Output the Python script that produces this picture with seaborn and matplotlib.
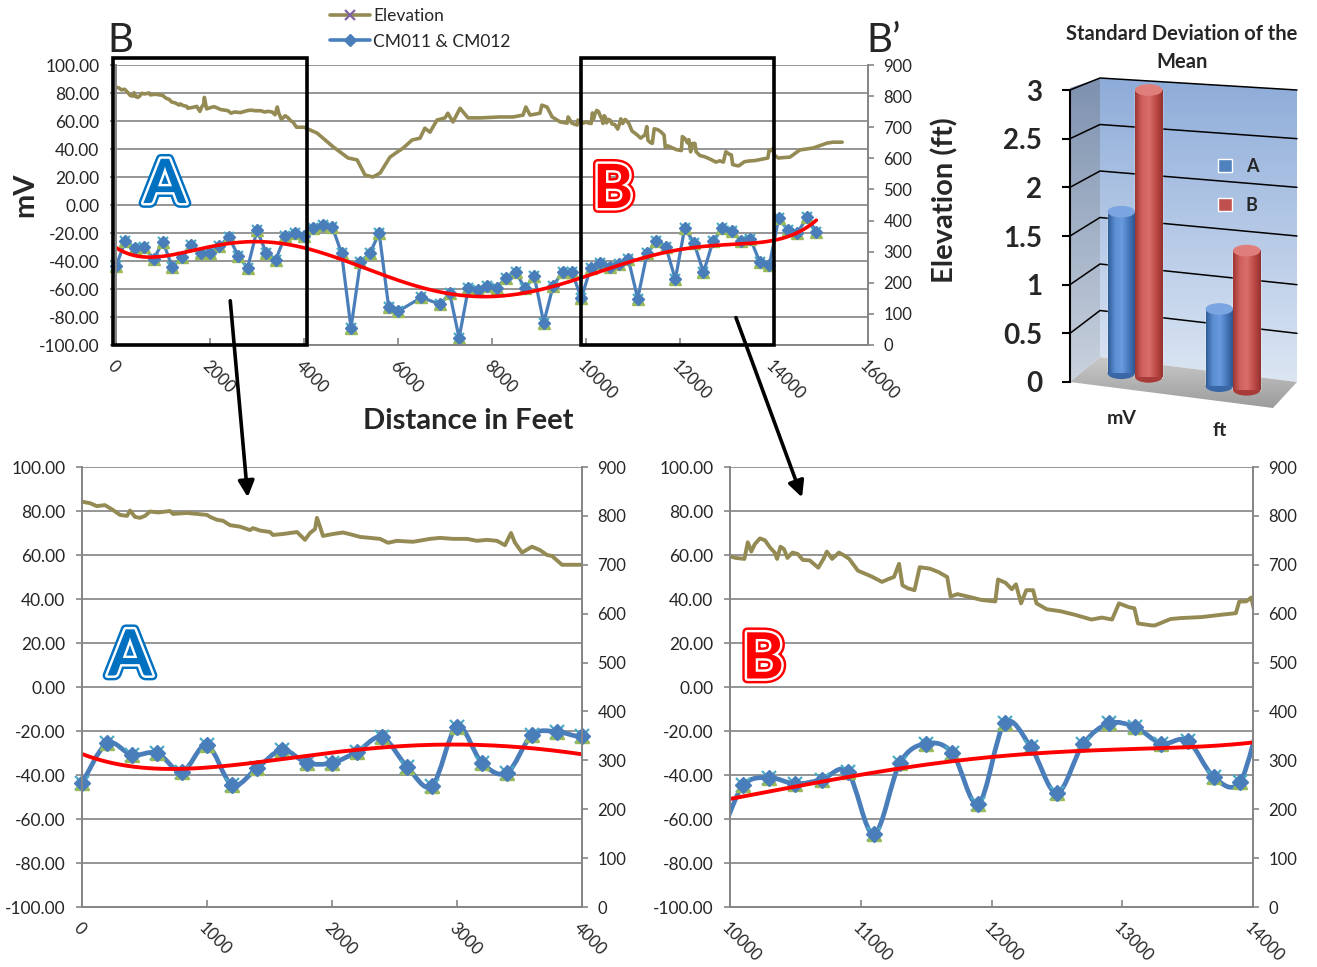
import numpy as np
import pandas as pd
import matplotlib
matplotlib.use("Agg")
import matplotlib.pyplot as plt
import matplotlib.patheffects as pe
from matplotlib.colors import LinearSegmentedColormap
from matplotlib.lines import Line2D
from matplotlib.patches import PathPatch, Rectangle, Ellipse, Polygon, FancyArrowPatch, Patch
from matplotlib.path import Path
import seaborn as sns

# ---------------- data ----------------
# CM011 & CM012 readings (distance in ft, mV)
mv_dist = [0, 200, 400, 600, 800, 1000, 1200, 1400, 1600, 1800, 2000, 2200, 2400, 2600, 2800,
           3000, 3200, 3400, 3600, 3800, 4000,
           4200, 4400, 4600, 4800, 5000, 5200, 5400, 5600, 5800, 6000, 6500, 6900,
           7100, 7300, 7500, 7700, 7900, 8100, 8300, 8500, 8700, 8900, 9100, 9300, 9500, 9700, 9900,
           10100, 10300, 10500, 10700, 10900, 11100, 11300, 11500, 11700, 11900, 12100, 12300,
           12500, 12700, 12900, 13100, 13300, 13500, 13700, 13900,
           14100, 14300, 14500, 14700, 14900]
mv_vals = [-43.8, -25.6, -30.9, -30.0, -38.5, -26.4, -44.5, -36.9, -28.6, -34.5, -34.5, -29.4, -22.8,
           -36.2, -45.0, -18.0, -34.5, -39.0, -21.8, -20.3, -22.3,
           -16.7, -14.0, -15.5, -34.5, -88.0, -40.5, -34.6, -20.0, -72.6, -76.0, -66.0, -71.0,
           -63.0, -95.0, -59.0, -60.7, -57.5, -59.0, -52.0, -47.6, -59.5, -51.0, -84.0, -58.0,
           -47.6, -47.6, -66.7,
           -44.7, -41.2, -44.0, -42.1, -38.6, -66.9, -34.5, -25.7, -29.9, -53.1, -16.5, -27.2,
           -48.2, -26.0, -16.5, -18.3, -25.7, -24.4, -40.9, -43.2,
           -9.5, -18.0, -20.0, -8.6, -19.0]

# elevation profile (distance in ft, elevation in ft)
elev_dist = [0, 64, 118, 184, 248, 304, 360, 384, 424, 464, 504, 544, 608, 704, 728, 840, 920, 1000,
             1024, 1080, 1128, 1184, 1264, 1344, 1368, 1424, 1504, 1528, 1608, 1720, 1760, 1784,
             1824, 1864, 1880, 1904, 1928, 2008, 2088, 2168, 2224, 2304, 2384, 2448, 2520, 2648,
             2784, 2864, 2968, 3080, 3160, 3240, 3320, 3384, 3432, 3464, 3520, 3600, 3664, 3720,
             3760, 3840, 3904, 4000,
             4280, 4620, 4940, 5130, 5300, 5470, 5620, 5830, 5980, 6110, 6300, 6470, 6570, 6680,
             6830, 7000, 7060, 7170, 7320, 7490, 7750, 8170, 8450, 8660, 8720, 8810, 9020, 9060,
             9170, 9280, 9450, 9600, 9620, 9700, 9810, 9830, 9940,
             10000, 10045, 10110, 10136, 10163, 10189, 10229, 10268, 10307, 10342, 10360, 10386,
             10413, 10439, 10478, 10518, 10557, 10610, 10675, 10715, 10741, 10781, 10833, 10873,
             10912, 10978, 11030, 11083, 11162, 11214, 11254, 11293, 11319, 11359, 11411, 11451,
             11530, 11595, 11661, 11687, 11740, 11819, 11924, 12029, 12050, 12108, 12155, 12187,
             12226, 12266, 12318, 12344, 12423, 12528, 12633, 12765, 12844, 12922, 12975, 13054,
             13093, 13120, 13225, 13251, 13369, 13448, 13606, 13764, 13869, 13895, 13947, 13987,
             14005,
             14090, 14340, 14550, 14830, 15130, 15260, 15450]
elev_vals = [829, 826, 820, 822, 812, 802, 800, 811, 798, 796, 800, 809, 807, 810, 804, 806, 804, 802,
             798, 792, 790, 781, 778, 771, 775, 770, 767, 761, 763, 767, 757, 751,
             765, 773, 796, 778, 759, 763, 766, 761, 757, 755, 753, 745, 749, 747,
             753, 755, 753, 753, 749, 751, 749, 740, 765, 745, 725, 737, 730, 720,
             718, 700, 700, 700,
             681, 637, 601, 595, 546, 540, 553, 604, 620, 633, 659, 665, 697, 684,
             723, 730, 745, 717, 761, 730, 730, 733, 733, 739, 765, 739, 745, 771,
             765, 733, 717, 713, 733, 713, 707, 723, 713,
             717, 714, 712, 746, 727, 742, 754, 750, 735, 725, 712, 737,
             732, 714, 725, 722, 710, 709, 694, 712, 727, 712, 725, 719,
             712, 688, 682, 676, 665, 671, 675, 702, 658, 652, 648, 695,
             692, 685, 675, 635, 640, 635, 628, 625, 670, 663, 650, 660,
             621, 648, 648, 621, 609, 605, 598, 588, 592, 588, 621, 613,
             611, 580, 576, 576, 589, 591, 593, 598, 601, 625, 625, 633,
             611,
             601, 604, 627, 633, 649, 652, 652]

# standard deviation of the mean (3D bar chart)
sd_units = ["mV", "mV", "ft", "ft"]
sd_region = ["A", "B", "A", "B"]
sd_values = [1.75, 3.0, 0.75, 1.35]

mv_ticks = [-100, -80, -60, -40, -20, 0, 20, 40, 60, 80, 100]
elev_ticks = [0, 100, 200, 300, 400, 500, 600, 700, 800, 900]
top_xticks = [0, 2000, 4000, 6000, 8000, 10000, 12000, 14000, 16000]
a_xticks = [0, 1000, 2000, 3000, 4000]
b_xticks = [10000, 11000, 12000, 13000, 14000]

mv_df = pd.DataFrame({"dist": mv_dist, "mv": mv_vals})
elev_df = pd.DataFrame({"dist": elev_dist, "elev": elev_vals})
sd_df = pd.DataFrame({"unit": sd_units, "region": sd_region, "sd": sd_values})

BLUE = "#4A7EBB"
OLIVE = "#948A54"
TRI = "#9BBB59"
XCOL = "#4BACC6"
RED = "#FF0000"
GRID = "#8C8C8C"
AXIS = "#868686"

sns.set_theme(style="white")
plt.rcParams["font.family"] = ["Lato", "DejaVu Sans"]

W, H = 1317, 967
fig = plt.figure(figsize=(W / 100, H / 100), dpi=100)


def add_px_axes(x0, y0, x1, y1):
    return fig.add_axes([x0 / W, 1 - y1 / H, (x1 - x0) / W, (y1 - y0) / H])


def ftext(x, y, s, **kw):
    return fig.text(x / W, 1 - y / H, s, **kw)


def setup_chart(ax, xlim, xticks):
    ax2 = ax.twinx()
    ax.set_xlim(*xlim)
    ax.set_ylim(-100, 100)
    ax2.set_ylim(0, 900)
    ax.set_yticks(mv_ticks)
    ax.set_yticklabels([f"{t:.2f}" for t in mv_ticks])
    ax2.set_yticks(elev_ticks)
    ax2.set_yticklabels([str(t) for t in elev_ticks])
    ax.set_xticks(xticks)
    ax.set_xticklabels([str(t) for t in xticks], rotation=-45, ha="left", va="top",
                       rotation_mode="anchor")
    ax.yaxis.grid(True, color=GRID, lw=1.3)
    ax.xaxis.grid(False)
    ax2.grid(False)
    for a in (ax, ax2):
        for side in a.spines:
            a.spines[side].set_color(AXIS)
            a.spines[side].set_linewidth(1.3)
        a.spines["top"].set_visible(False)
    ax.tick_params(axis="y", left=True, direction="out", length=4, width=1.2, color=AXIS,
                   pad=8, labelsize=12.5)
    ax2.tick_params(axis="y", right=True, direction="out", length=4, width=1.2, color=AXIS,
                    pad=7, labelsize=12)
    ax.tick_params(axis="x", bottom=True, direction="in", length=5, width=1.2, color=AXIS,
                   pad=9, labelsize=12)
    return ax2


def smooth_path(xs, ys):
    # Bezier path through the points, like a spreadsheet "smoothed line"
    verts = [(xs[0], ys[0])]
    codes = [Path.MOVETO]
    n = len(xs)
    for i in range(n - 1):
        p0 = i - 1 if i > 0 else i
        p3 = i + 2 if i + 2 < n else i + 1
        c1 = (xs[i] + (xs[i + 1] - xs[p0]) / 6, ys[i] + (ys[i + 1] - ys[p0]) / 6)
        c2 = (xs[i + 1] - (xs[p3] - xs[i]) / 6, ys[i + 1] - (ys[p3] - ys[i]) / 6)
        verts += [c1, c2, (xs[i + 1], ys[i + 1])]
        codes += [Path.CURVE4] * 3
    return Path(verts, codes)


def draw_markers(ax, lo, hi, ms):
    sub = mv_df[(mv_df["dist"] >= lo) & (mv_df["dist"] <= hi)]
    ax.plot(sub["dist"], sub["mv"], ls="none", marker="x", ms=ms * 0.95, mew=1.6,
            color=XCOL, zorder=4, clip_on=False)
    ax.plot(sub["dist"], sub["mv"], ls="none", marker="^", ms=ms, color=TRI, mec=TRI,
            zorder=4.1, clip_on=False)
    ax.plot(sub["dist"], sub["mv"], ls="none", marker="D", ms=ms * 0.8, color=BLUE, mec=BLUE,
            zorder=4.2, clip_on=False)


# polynomial trendline of the mV readings
trend_coef = np.polyfit(np.array(mv_dist) / 1000.0, mv_vals, 6)
trend_x = np.linspace(mv_dist[0], mv_dist[-1], 500)
trend_y = np.polyval(trend_coef, trend_x / 1000.0)

# ---------------- top profile chart ----------------
ax_top = add_px_axes(116, 65, 868, 345)
ax_top2 = setup_chart(ax_top, (0, 16000), top_xticks)
sns.lineplot(data=elev_df, x="dist", y="elev", ax=ax_top2, color=OLIVE, lw=2.6, estimator=None)
sns.lineplot(data=mv_df, x="dist", y="mv", ax=ax_top, color=BLUE, lw=2.3, estimator=None, zorder=3)
draw_markers(ax_top, 0, 16000, 8)
ax_top.plot(trend_x, trend_y, color=RED, lw=2.6, zorder=5)
for a in (ax_top, ax_top2):
    a.set_xlabel("")
    a.set_ylabel("")

# zoom boxes
ax_top2.add_patch(Rectangle((-64, -100), 4128, 205, transform=ax_top.transData, fill=False,
                            ec="black", lw=2.6, clip_on=False, zorder=10))
ax_top2.add_patch(Rectangle((9894, -100), 4106, 205, transform=ax_top.transData, fill=False,
                            ec="black", lw=2.6, clip_on=False, zorder=10))

# ---------------- bottom detail charts ----------------
for box, xlim, xticks in [((82, 467, 582, 907), (0, 4000), a_xticks),
                          ((730, 467, 1253, 907), (10000, 14000), b_xticks)]:
    ax = add_px_axes(*box)
    ax2 = setup_chart(ax, xlim, xticks)
    sns.lineplot(data=elev_df, x="dist", y="elev", ax=ax2, color=OLIVE, lw=2.8, estimator=None)
    ax.add_patch(PathPatch(smooth_path(mv_dist, mv_vals), fill=False, ec=BLUE, lw=3.4,
                           zorder=3, capstyle="round", joinstyle="round"))
    draw_markers(ax, xlim[0], xlim[1], 10)
    ax.plot(trend_x, trend_y, color=RED, lw=2.8, zorder=5)
    ax.set_xlim(*xlim)
    for a in (ax, ax2):
        a.set_xlabel("")
        a.set_ylabel("")

# ---------------- labels and annotations ----------------
ftext(25, 195, "mV", rotation=90, ha="center", va="center", fontsize=21, fontweight="bold")
ftext(945, 200, "Elevation (ft)", rotation=90, ha="center", va="center", fontsize=21,
      fontweight="bold")
ftext(468, 421, "Distance in Feet", ha="center", va="center", fontsize=21, fontweight="bold")
ftext(120, 40, "B", ha="center", va="center", fontsize=29)
ftext(884, 40, "B\u2019", ha="center", va="center", fontsize=29)


def big_letter(x, y, s, c, size):
    ftext(x, y, s, ha="center", va="center", fontsize=size, fontweight="bold", color=c,
          path_effects=[pe.Stroke(linewidth=7, foreground=c),
                        pe.Stroke(linewidth=3.5, foreground="white"), pe.Normal()])


big_letter(165, 185, "A", "#0070C0", 44)
big_letter(613, 190, "B", RED, 44)
big_letter(130, 657, "A", "#0070C0", 46)
big_letter(763, 660, "B", RED, 46)

for (x0, y0), (x1, y1) in [((230, 298), (248, 500)), ((735, 315), (803, 500))]:
    fig.add_artist(FancyArrowPatch((x0 / W, 1 - y0 / H), (x1 / W, 1 - y1 / H),
                                   transform=fig.transFigure, arrowstyle="-|>",
                                   mutation_scale=24, lw=2.6, color="black"))

legend_handles = [
    Line2D([], [], color=OLIVE, lw=2.6, marker="x", mec="#8064A2", mfc="#8064A2", ms=7, mew=1.6),
    Line2D([], [], color=BLUE, lw=2.6, marker="D", mec=BLUE, mfc=BLUE, ms=6),
]
fig.legend(legend_handles, ["Elevation", "CM011 & CM012"], loc="upper left",
           bbox_to_anchor=(330 / W, 1 - 8 / H), frameon=False, fontsize=12.5, handlelength=2.3,
           handletextpad=0.2, labelspacing=0.55, borderaxespad=0, borderpad=0)

# ---------------- 3D-looking bar chart ----------------
ax3 = add_px_axes(1070, 70.5, 1305, 416)


def u(px):
    return (px - 1135) / 98.0


def v(py):
    return (382 - py) / 97.33


sns.barplot(data=sd_df, x="unit", y="sd", hue="region", palette=["#4F81BD", "#C0504D"],
            width=0.56, ax=ax3, legend=False, saturation=1, zorder=3)
bars = list(ax3.patches)


def grad_fill(poly_xy, colors, vertical=True, zorder=1):
    poly = Polygon(poly_xy, closed=True, facecolor="none", edgecolor="none")
    ax3.add_patch(poly)
    xs = [p[0] for p in poly_xy]
    ys = [p[1] for p in poly_xy]
    g = np.linspace(0, 1, 256)
    arr = g.reshape(-1, 1) if vertical else g.reshape(1, -1)
    im = ax3.imshow(arr, extent=(min(xs), max(xs), min(ys), max(ys)), origin="lower",
                    cmap=LinearSegmentedColormap.from_list("g", colors), aspect="auto",
                    zorder=zorder, interpolation="bilinear")
    im.set_clip_path(poly)


grad_fill([(u(1070), v(382)), (u(1100), v(357)), (u(1100), v(78)), (u(1070), v(88))],
          ["#C9D2DE", "#7D91AF"], zorder=0.5)
grad_fill([(u(1100), v(357)), (u(1297), v(382)), (u(1297), v(90)), (u(1100), v(78))],
          ["#DCE6F3", "#8EACD9"], zorder=0.5)
grad_fill([(u(1070), v(382)), (u(1100), v(357)), (u(1297), v(382)), (u(1273), v(408))],
          ["#9C9C9C", "#C9C9C9"], zorder=0.6)

for val in [0.5, 1.0, 1.5, 2.0, 2.5, 3.0]:
    corner = 357 - val * (357 - 78) / 3
    right = 382 - val * (382 - 90) / 3
    ax3.plot([u(1070), u(1100), u(1297)], [val, v(corner), v(right)], color="black", lw=1.1,
             zorder=1)

for p in bars:
    x0, w, top = p.get_x(), p.get_width(), p.get_height()
    cx = x0 + w / 2
    base = 0.09 - (cx + 0.14) * 0.17 / 1.28
    p.set_y(base)
    p.set_height(top - base)
    is_red = p.get_facecolor()[0] > 0.6
    if is_red:
        cols = ["#9E3532", "#CF605D", "#DA6F6C", "#BF4B48", "#93302D"]
        cap, dark = "#E07E7B", "#A83B38"
    else:
        cols = ["#2F5C97", "#5C8ED2", "#6A9ADF", "#4677BA", "#2A528C"]
        cap, dark = "#7AA5E0", "#3A67A5"
    ax3.add_patch(Ellipse((cx, base), w, 0.12, facecolor=dark, edgecolor="none", zorder=3.05))
    g = np.linspace(0, 1, 128).reshape(1, -1)
    ax3.imshow(g, extent=(x0, x0 + w, base, top), origin="lower", aspect="auto",
               cmap=LinearSegmentedColormap.from_list("c", cols), zorder=3.1,
               interpolation="bilinear")
    ax3.add_patch(Ellipse((cx, top), w, 0.12, facecolor=cap, edgecolor="none", zorder=3.3))

ax3.set_xlim(u(1070), u(1305))
ax3.set_ylim(v(416), v(70.5))
ax3.set_facecolor("none")
for side in ["top", "right", "bottom"]:
    ax3.spines[side].set_visible(False)
ax3.spines["left"].set_color("black")
ax3.spines["left"].set_linewidth(1.5)
ax3.spines["left"].set_bounds(0, 3)
ax3.set_xticks([])
ax3.set_yticks([0, 0.5, 1, 1.5, 2, 2.5, 3])
ax3.set_yticklabels(["0", "0.5", "1", "1.5", "2", "2.5", "3"])
ax3.tick_params(axis="y", left=True, direction="out", length=6, width=1.5, color="black",
                pad=14, labelsize=20)
for lab in ax3.get_yticklabels():
    lab.set_fontweight("bold")
ax3.set_xlabel("")
ax3.set_ylabel("")
ax3.text(u(1122), v(418), sd_units[0], ha="center", va="center", fontsize=14,
         fontweight="bold", clip_on=False)
ax3.text(u(1220), v(430), sd_units[2], ha="center", va="center", fontsize=14,
         fontweight="bold", clip_on=False)

ftext(1182, 48, "Standard Deviation of the\nMean", ha="center", va="center", fontsize=14.5,
      fontweight="bold", linespacing=1.45)
fig.legend([Patch(facecolor="#4F81BD"), Patch(facecolor="#C0504D")], ["A", "B"],
           loc="upper left", bbox_to_anchor=(1218 / W, 1 - 158 / H), frameon=False,
           handlelength=0.75, handleheight=0.75, handletextpad=0.8, labelspacing=1.2,
           borderaxespad=0, borderpad=0, prop={"weight": "bold", "size": 13})

fig.savefig("out.png", dpi=100)
